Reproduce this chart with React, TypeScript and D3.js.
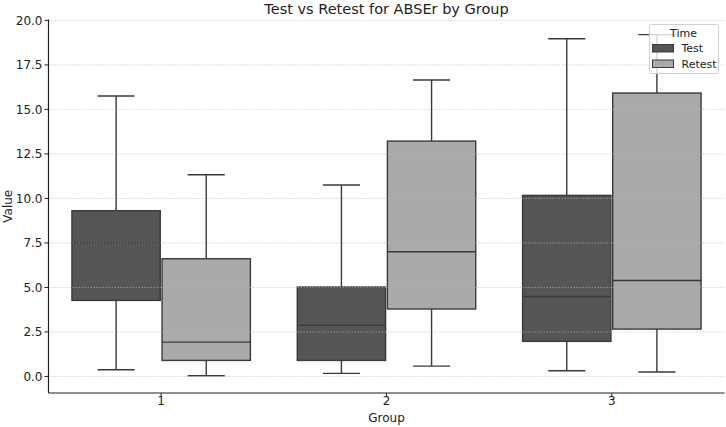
import { scaleBand, scaleLinear, range } from "d3";

const groups = ["1", "2", "3"];
const times = ["Test", "Retest"];
const timeColors = ["#555555", "#aaaaaa"];

// five-number summaries
const testLow = [0.38, 0.17, 0.32];
const testQ1 = [4.27, 0.9, 1.97];
const testMedian = [7.51, 2.87, 4.49];
const testQ3 = [9.31, 5.02, 10.17];
const testHigh = [15.75, 10.75, 18.97];

const retestLow = [0.04, 0.58, 0.25];
const retestQ1 = [0.9, 3.79, 2.66];
const retestMedian = [1.93, 7.0, 5.39];
const retestQ3 = [6.61, 13.22, 15.92];
const retestHigh = [11.33, 16.65, 19.2];

const yTicks = [0, 2.5, 5, 7.5, 10, 12.5, 15, 17.5, 20];

const W = 726;
const H = 427;
const margin = { left: 48.5, right: 1.5, top: 19.5, bottom: 34 };
const font = "DejaVu Sans, Verdana, sans-serif";
const edge = "#3a3a3a";

export default function App() {
  const x = scaleBand<string>()
    .domain(groups)
    .range([margin.left, W - margin.right])
    .padding(0);
  const bw = x.bandwidth();
  const xSub = scaleBand<string>()
    .domain(times)
    .range([0.1 * bw, 0.9 * bw])
    .padding(0);
  const boxW = xSub.bandwidth() * 0.98;
  const capW = boxW * 0.42;

  const y = scaleLinear()
    .domain([-0.93, 20.05])
    .range([H - margin.bottom, margin.top]);

  const stats = [
    { low: testLow, q1: testQ1, med: testMedian, q3: testQ3, high: testHigh },
    { low: retestLow, q1: retestQ1, med: retestMedian, q3: retestQ3, high: retestHigh },
  ];

  const boxes = times.flatMap((t, ti) =>
    range(groups.length).map((gi) => {
      const s = stats[ti];
      const cx = (x(groups[gi]) ?? 0) + (xSub(t) ?? 0) + xSub.bandwidth() / 2;
      return {
        key: `${t}-${gi}`,
        cx,
        color: timeColors[ti],
        low: s.low[gi],
        q1: s.q1[gi],
        med: s.med[gi],
        q3: s.q3[gi],
        high: s.high[gi],
      };
    })
  );

  const plotBottom = H - margin.bottom;
  const plotLeft = margin.left;
  const plotRight = W - margin.right;
  const midX = (plotLeft + plotRight) / 2;

  return (
    <div style={{ position: "absolute", left: 0, top: 0 }}>
      <svg width={W} height={H} style={{ display: "block", background: "#fff" }}>
        {/* boxes */}
        {boxes.map((b) => (
          <g key={b.key} stroke={edge} strokeWidth={1.4}>
            <line x1={b.cx} x2={b.cx} y1={y(b.q3)} y2={y(b.high)} />
            <line x1={b.cx} x2={b.cx} y1={y(b.q1)} y2={y(b.low)} />
            <line x1={b.cx - capW / 2} x2={b.cx + capW / 2} y1={y(b.high)} y2={y(b.high)} />
            <line x1={b.cx - capW / 2} x2={b.cx + capW / 2} y1={y(b.low)} y2={y(b.low)} />
            <rect
              x={b.cx - boxW / 2}
              y={y(b.q3)}
              width={boxW}
              height={y(b.q1) - y(b.q3)}
              fill={b.color}
            />
            <line x1={b.cx - boxW / 2} x2={b.cx + boxW / 2} y1={y(b.med)} y2={y(b.med)} />
          </g>
        ))}

        {/* grid on top */}
        {yTicks.map((t) => (
          <line
            key={`g${t}`}
            x1={plotLeft}
            x2={plotRight}
            y1={y(t)}
            y2={y(t)}
            stroke="#b8b8b8"
            strokeOpacity={0.6}
            strokeWidth={1}
            strokeDasharray="1.5,1.5"
          />
        ))}

        {/* y axis */}
        <line x1={plotLeft} x2={plotLeft} y1={margin.top} y2={plotBottom} stroke="#222" strokeWidth={1.2} />
        {yTicks.map((t) => (
          <g key={`y${t}`}>
            <line x1={plotLeft - 4} x2={plotLeft} y1={y(t)} y2={y(t)} stroke="#222" strokeWidth={1} />
            <text
              x={plotLeft - 6}
              y={y(t)}
              dy="0.35em"
              textAnchor="end"
              fontFamily={font}
              fontSize={12}
              fill="#222"
            >
              {t.toFixed(1)}
            </text>
          </g>
        ))}

        {/* x axis */}
        <line x1={plotLeft} x2={plotRight} y1={plotBottom} y2={plotBottom} stroke="#222" strokeWidth={1.2} />
        {groups.map((g) => {
          const cx = (x(g) ?? 0) + bw / 2;
          return (
            <g key={`x${g}`}>
              <line x1={cx} x2={cx} y1={plotBottom} y2={plotBottom + 4} stroke="#222" strokeWidth={1} />
              <text x={cx} y={plotBottom + 12} textAnchor="middle" fontFamily={font} fontSize={12} fill="#222">
                {g}
              </text>
            </g>
          );
        })}

        <text x={midX} y={H - 5} textAnchor="middle" fontFamily={font} fontSize={12} fill="#222">
          Group
        </text>
        <text
          transform={`translate(12,${(margin.top + plotBottom) / 2}) rotate(-90)`}
          textAnchor="middle"
          fontFamily={font}
          fontSize={12}
          fill="#222"
        >
          Value
        </text>
        <text x={midX} y={14} textAnchor="middle" fontFamily={font} fontSize={14.5} fill="#222">
          Test vs Retest for ABSEr by Group
        </text>

        {/* legend */}
        <g transform="translate(649.5,24.5)">
          <rect width={69} height={49} rx={2} fill="#fff" fillOpacity={0.8} stroke="#d0d0d0" />
          <text x={34} y={12} textAnchor="middle" fontFamily={font} fontSize={11} fill="#222">
            Time
          </text>
          {times.map((t, i) => (
            <g key={t} transform={`translate(3,${20 + i * 15.5})`}>
              <rect width={21} height={7.5} fill={timeColors[i]} stroke={edge} strokeWidth={1} />
              <text x={29} y={7.5} fontFamily={font} fontSize={11} fill="#222">
                {t}
              </text>
            </g>
          ))}
        </g>
      </svg>
    </div>
  );
}
